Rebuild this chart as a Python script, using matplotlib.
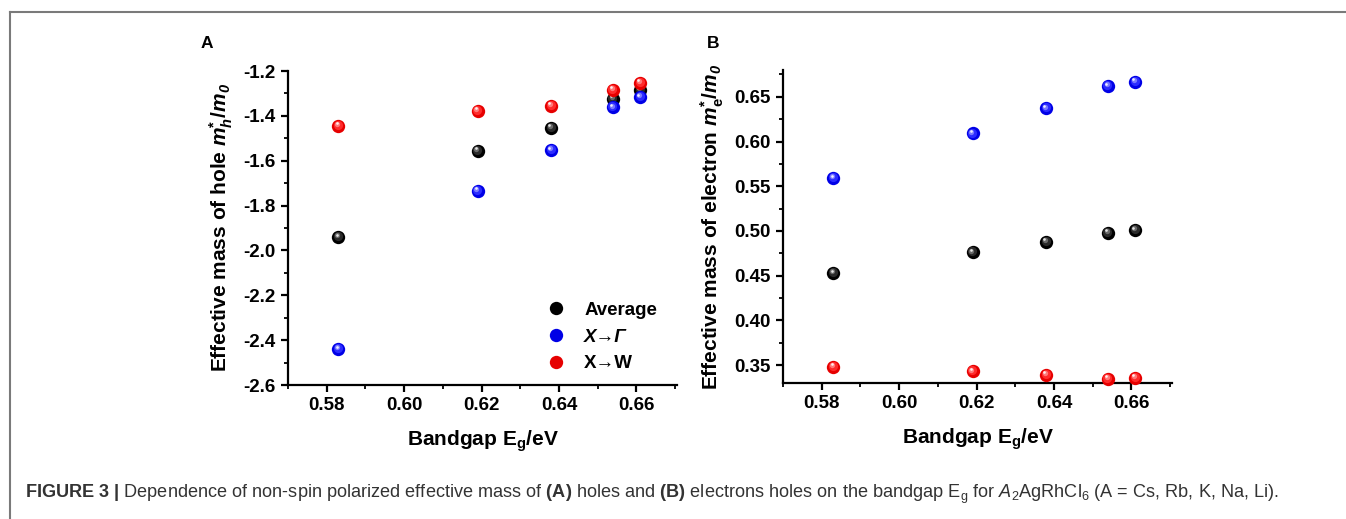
import matplotlib
matplotlib.use("Agg")
import matplotlib.pyplot as plt
from matplotlib.lines import Line2D
from matplotlib.ticker import MultipleLocator, FormatStrFormatter
from matplotlib.transforms import offset_copy

# ---------------- data ----------------
bandgap = [0.583, 0.619, 0.638, 0.654, 0.661]          # eV, A = Cs, Rb, K, Na, Li (sorted by Eg)

hole_average = [-1.941, -1.556, -1.454, -1.323, -1.285]
hole_x_gamma = [-2.440, -1.733, -1.553, -1.362, -1.317]
hole_x_w     = [-1.443, -1.378, -1.356, -1.284, -1.252]

elec_average = [0.453, 0.476, 0.488, 0.498, 0.501]
elec_x_gamma = [0.559, 0.609, 0.637, 0.662, 0.667]
elec_x_w     = [0.348, 0.343, 0.339, 0.335, 0.336]

series_labels = ["Average", "X→Γ", "X→W"]

# ---------------- style ----------------
plt.rcParams['font.family'] = ['Liberation Sans', 'DejaVu Sans']
plt.rcParams['mathtext.fontset'] = 'custom'
plt.rcParams['mathtext.rm'] = 'Liberation Sans'
plt.rcParams['mathtext.it'] = 'Liberation Sans:italic'
plt.rcParams['mathtext.bf'] = 'Liberation Sans:bold'
plt.rcParams['mathtext.bfit'] = 'Liberation Sans:italic:bold'

W, H = 1346, 519
fig = plt.figure(figsize=(W / 100, H / 100), dpi=100)

TICK_FS = 13.5
LABEL_FS = 15

colors = {
    "black": ["#000000", "#2a2a2a", "#6a6a6a", "#e6e6e6"],
    "blue":  ["#0000e6", "#2b2bff", "#7a7aff", "#eeeeff"],
    "red":   ["#e60000", "#ff2b2b", "#ff7a7a", "#ffeeee"],
}


def sphere(ax, x, y, shades):
    sizes = [9.6, 6.6, 3.8, 1.9]
    offs = [0.0, 0.7, 1.3, 1.8]
    for c, s, o in zip(shades, sizes, offs):
        tr = offset_copy(ax.transData, fig=fig, x=-o * 0.7, y=o, units='points')
        ax.plot(x, y, 'o', ms=s, color=c, mec='none', transform=tr,
                clip_on=False, zorder=3)


def style_axes(ax, ymajor, yminor, yfmt):
    for s in ['top', 'right']:
        ax.spines[s].set_visible(False)
    for s in ['left', 'bottom']:
        ax.spines[s].set_linewidth(1.6)
    ax.set_xlim(0.57, 0.6705)
    ax.xaxis.set_major_locator(MultipleLocator(0.02))
    ax.xaxis.set_minor_locator(MultipleLocator(0.01))
    ax.xaxis.set_major_formatter(FormatStrFormatter('%.2f'))
    ax.yaxis.set_major_locator(MultipleLocator(ymajor))
    ax.yaxis.set_minor_locator(MultipleLocator(yminor))
    ax.yaxis.set_major_formatter(FormatStrFormatter(yfmt))
    ax.tick_params(which='major', direction='out', length=5, width=1.6,
                   labelsize=TICK_FS, pad=4)
    ax.tick_params(which='minor', direction='out', length=3, width=1.3)
    for lab in ax.get_xticklabels() + ax.get_yticklabels():
        lab.set_fontweight('bold')
    ax.set_xlabel(r"Bandgap $\mathbf{E}_\mathbf{g}$/eV", fontsize=LABEL_FS,
                  fontweight='bold', labelpad=10)


# ---------------- panel A ----------------
axA = fig.add_axes([288 / W, (H - 385) / H, 389 / W, 314 / H])
sphere(axA, bandgap, hole_average, colors["black"])
sphere(axA, bandgap, hole_x_gamma, colors["blue"])
sphere(axA, bandgap, hole_x_w, colors["red"])
axA.set_ylim(-2.6, -1.2)
style_axes(axA, 0.2, 0.1, '%.1f')
axA.set_ylabel(r"Effective mass of hole $\mathbfit{m}_{\mathbfit{h}}^{\mathbf{*}}$/$\mathbfit{m}_{\mathbfit{0}}$",
               fontsize=LABEL_FS, fontweight='bold', labelpad=6)

handles = [Line2D([], [], ls='none', marker='o', ms=9.6, color=colors[k][0], mec='none')
           for k in ["black", "blue", "red"]]
leg = axA.legend(handles, series_labels, loc='center left',
                 bbox_to_anchor=(0.665, 0.153), frameon=False,
                 prop={'weight': 'bold', 'size': TICK_FS}, handlelength=1.0,
                 handletextpad=1.0, labelspacing=0.52, borderpad=0, borderaxespad=0)
leg.get_texts()[1].set_fontstyle('italic')

# ---------------- panel B ----------------
axB = fig.add_axes([783 / W, (H - 383) / H, 389 / W, 313 / H])
sphere(axB, bandgap, elec_average, colors["black"])
sphere(axB, bandgap, elec_x_gamma, colors["blue"])
sphere(axB, bandgap, elec_x_w, colors["red"])
axB.set_ylim(0.33, 0.68)
style_axes(axB, 0.05, 0.025, '%.2f')
axB.set_ylabel(r"Effective mass of electron $\mathbfit{m}_{\mathbf{e}}^{\mathbf{*}}$/$\mathbfit{m}_{\mathbfit{0}}$",
               fontsize=LABEL_FS, fontweight='bold', labelpad=6)

# panel letters
fig.text(207 / W, 1 - 43 / H, "A", fontsize=12.5, fontweight='bold', ha='center', va='center')
fig.text(713 / W, 1 - 43 / H, "B", fontsize=12.5, fontweight='bold', ha='center', va='center')

# frame lines of the figure box
fig.add_artist(Line2D([9.5 / W, 9.5 / W], [0, 1 - 12 / H], transform=fig.transFigure,
                      color='#7a7a7a', lw=1.5))
fig.add_artist(Line2D([9.5 / W, 1], [1 - 12 / H, 1 - 12 / H], transform=fig.transFigure,
                      color='#7a7a7a', lw=1.5))

# caption
caption = (r"$\mathbf{FIGURE\ 3\ |}$ Dependence of non-spin polarized effective mass of "
           r"$\mathbf{(A)}$ holes and $\mathbf{(B)}$ electrons holes on the bandgap "
           r"E$_\mathrm{g}$ for $\mathit{A}_2$AgRhCl$_6$ (A = Cs, Rb, K, Na, Li).")
fig.text(25 / W, 1 - 494 / H, caption, fontsize=13.05, color='#333333', ha='left', va='center')

fig.savefig("out.png", dpi=100)
